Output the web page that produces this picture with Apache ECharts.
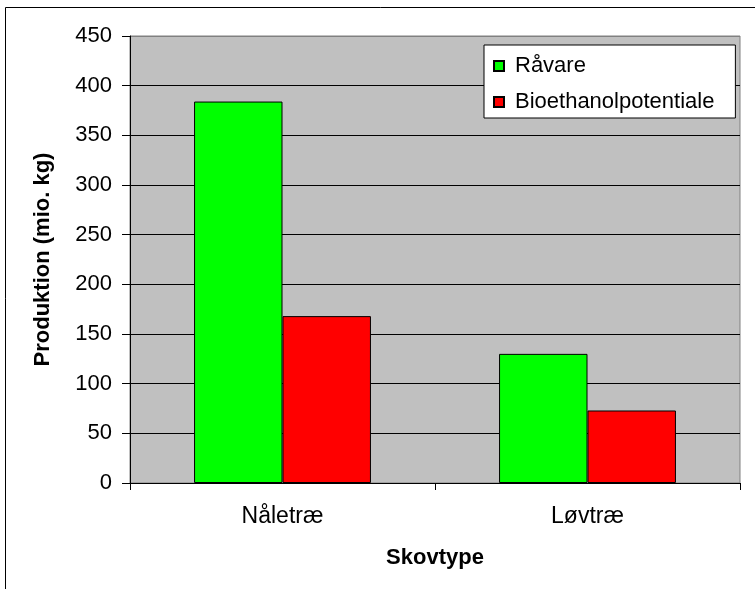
<!DOCTYPE html>
<html>
<head>
<meta charset="utf-8">
<script src="https://cdn.jsdelivr.net/npm/echarts@6/dist/echarts.min.js"></script>
<style>
  html, body { margin: 0; padding: 0; background: #fff; }
  #main { width: 755px; height: 589px; }
</style>
</head>
<body>
<div id="main"></div>
<script>
    var categories = ['Nåletræ', 'Løvtræ'];
    var raavare = [384, 130];
    var bioethanol = [168, 73];
    var seriesNames = ['Råvare', 'Bioethanolpotentiale'];

    var font = '"Liberation Sans", Arial, sans-serif';
    // top grid line is drawn grey like the plot border
    var gridColors = ['#000', '#000', '#000', '#000', '#000', '#000', '#000', '#000', '#000', '#808080'];

    var myChart = echarts.init(document.getElementById('main'));
    var option = {
        animation: false,
        backgroundColor: '#fff',
        graphic: [{
            type: 'rect',
            shape: { x: 5.5, y: 7.5, width: 900, height: 700 },
            style: { fill: 'none', stroke: '#000', lineWidth: 1 },
            silent: true
        }],
        legend: {
            orient: 'vertical',
            left: 484,
            top: 45,
            padding: [9, 21, 4, 9],
            itemGap: 12,
            itemWidth: 10,
            itemHeight: 10,
            icon: 'rect',
            backgroundColor: '#fff',
            borderColor: '#000',
            borderWidth: 1,
            textStyle: { fontFamily: font, fontSize: 22, color: '#000', lineHeight: 24, padding: [0, 0, 0, 6] },
            data: seriesNames
        },
        grid: {
            left: 130,
            right: 15,
            top: 36,
            bottom: 106,
            show: true,
            backgroundColor: '#C0C0C0',
            borderColor: '#808080',
            borderWidth: 1
        },
        xAxis: {
            type: 'category',
            data: categories,
            name: 'Skovtype',
            nameLocation: 'middle',
            nameGap: 64,
            nameTextStyle: { fontFamily: font, fontSize: 22, fontWeight: 'bold', color: '#000' },
            axisLine: { lineStyle: { color: '#000', width: 1 } },
            axisTick: { show: true, length: 7, lineStyle: { color: '#000' } },
            axisLabel: { fontFamily: font, fontSize: 23, color: '#000', margin: 22 },
            splitLine: { show: false }
        },
        yAxis: {
            type: 'value',
            min: 0,
            max: 450,
            interval: 50,
            name: 'Produktion (mio. kg)',
            nameLocation: 'middle',
            nameGap: 76,
            nameTextStyle: { fontFamily: font, fontSize: 22, fontWeight: 'bold', color: '#000' },
            axisLine: { show: true, lineStyle: { color: '#000', width: 1 } },
            axisTick: { show: true, length: 8, lineStyle: { color: '#000' } },
            axisLabel: { fontFamily: font, fontSize: 22, color: '#000', margin: 18 },
            splitLine: { show: true, lineStyle: { color: gridColors, width: 1 } }
        },
        series: [
            {
                name: seriesNames[0],
                type: 'bar',
                data: raavare,
                barGap: '0%',
                barCategoryGap: '42%',
                itemStyle: { color: '#00FF00', borderColor: '#000', borderWidth: 1 }
            },
            {
                name: seriesNames[1],
                type: 'bar',
                data: bioethanol,
                barGap: '0%',
                barCategoryGap: '42%',
                itemStyle: { color: '#FF0000', borderColor: '#000', borderWidth: 1 }
            }
        ]
    };
    myChart.setOption(option);
</script>
</body>
</html>
